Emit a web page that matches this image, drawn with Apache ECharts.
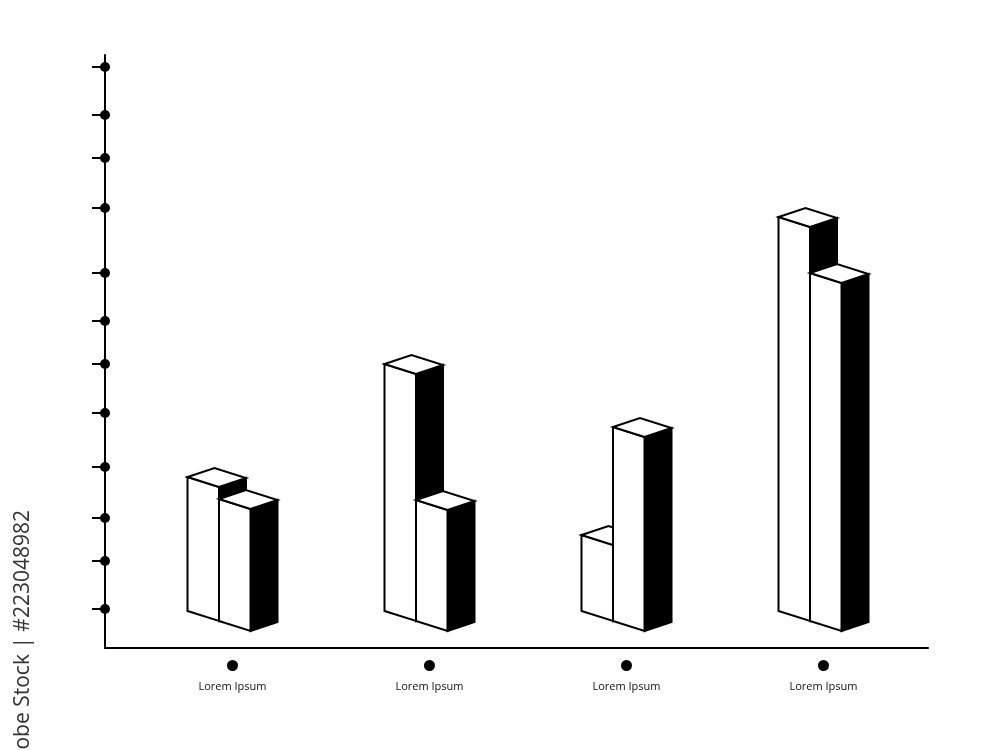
<!DOCTYPE html>
<html>
<head>
<meta charset="utf-8">
<script src="https://cdn.jsdelivr.net/npm/echarts@6/dist/echarts.min.js"></script>
<style>
  html, body { margin: 0; padding: 0; background: #fff; }
  #chart { width: 1000px; height: 750px; }
</style>
</head>
<body>
<div id="chart"></div>
<script>
// ---- data ----
var categories = ['Lorem Ipsum', 'Lorem Ipsum', 'Lorem Ipsum', 'Lorem Ipsum'];
var backValues = [26.8, 49.4, 15.2, 78.8];
var frontValues = [24.4, 24.2, 38.8, 69.6];
var yTicks = [0.4, 10, 18.6, 28.8, 39.6, 49.4, 58, 67.6, 80.6, 90.6, 99.2, 108.8];
var watermark = 'Adobe Stock | #223048982';

// ---- layout constants ----
var Y_MIN = -7.4, Y_MAX = 111.2;
var FACE_W = 31.5, FACE_DY = 10, DEPTH_X = 27, DEPTH_Y = -9;

var chart = echarts.init(document.getElementById('chart'));

function barShapes(api, idx, val, j, cx, y0) {
  var top = api.coord([idx, val])[1];
  var h = y0 - top;
  var bx = cx - (2 * FACE_W + DEPTH_X) / 2 + j * FACE_W;
  var by = y0 + j * FACE_DY;
  var st = { stroke: '#000', lineWidth: 2, lineJoin: 'miter' };
  var side = {
    type: 'polygon',
    shape: { points: [[bx + FACE_W, by + FACE_DY], [bx + FACE_W + DEPTH_X, by + FACE_DY + DEPTH_Y],
                      [bx + FACE_W + DEPTH_X, by + FACE_DY + DEPTH_Y - h], [bx + FACE_W, by + FACE_DY - h]] },
    style: Object.assign({ fill: '#000' }, st)
  };
  var front = {
    type: 'polygon',
    shape: { points: [[bx, by], [bx + FACE_W, by + FACE_DY], [bx + FACE_W, by + FACE_DY - h], [bx, by - h]] },
    style: Object.assign({ fill: '#fff' }, st)
  };
  var topFace = {
    type: 'polygon',
    shape: { points: [[bx, by - h], [bx + FACE_W, by + FACE_DY - h],
                      [bx + FACE_W + DEPTH_X, by + FACE_DY + DEPTH_Y - h], [bx + DEPTH_X, by + DEPTH_Y - h]] },
    style: Object.assign({ fill: '#fff' }, st)
  };
  return [side, front, topFace];
}

var option = {
  backgroundColor: '#fff',
  animation: false,
  grid: [
    { left: 105, top: 55, width: 823, height: 593 },
    { left: 134, top: 55, width: 788, height: 593 }
  ],
  xAxis: [
    { gridIndex: 0, type: 'value', min: 0, max: 1,
      axisLine: { show: true, onZero: false, lineStyle: { color: '#000', width: 2 } },
      axisTick: { show: false }, axisLabel: { show: false }, splitLine: { show: false } },
    { gridIndex: 1, type: 'category', data: categories,
      axisLine: { show: false }, axisTick: { show: false }, splitLine: { show: false },
      axisLabel: {
        margin: 12, interval: 0,
        formatter: function (v) { return '{d|}\n{t|' + v + '}'; },
        rich: {
          d: { width: 11, height: 11, borderRadius: 5.5, backgroundColor: '#000', lineHeight: 11 },
          t: { fontSize: 11, fontFamily: 'Open Sans', color: '#111', lineHeight: 31 }
        }
      } }
  ],
  yAxis: [
    { gridIndex: 0, type: 'value', min: Y_MIN, max: Y_MAX,
      axisLine: { show: true, onZero: false, lineStyle: { color: '#000', width: 2 } },
      axisTick: { show: false }, axisLabel: { show: false }, splitLine: { show: false } },
    { gridIndex: 1, type: 'value', min: Y_MIN, max: Y_MAX, show: false, splitLine: { show: false } }
  ],
  series: [
    {
      type: 'custom', xAxisIndex: 0, yAxisIndex: 0, clip: false,
      data: yTicks.map(function (v) { return [0, v]; }),
      renderItem: function (params, api) {
        var p = api.coord([api.value(0), api.value(1)]);
        return {
          type: 'group',
          children: [
            { type: 'line', shape: { x1: p[0] - 13, y1: p[1], x2: p[0], y2: p[1] },
              style: { stroke: '#000', lineWidth: 2 } },
            { type: 'circle', shape: { cx: p[0], cy: p[1], r: 5 }, style: { fill: '#000' } }
          ]
        };
      }
    },
    {
      type: 'custom', xAxisIndex: 1, yAxisIndex: 1, clip: false,
      data: categories.map(function (c, i) { return [i, backValues[i], frontValues[i]]; }),
      renderItem: function (params, api) {
        var idx = api.value(0);
        var base = api.coord([idx, 0]);
        var cx = base[0], y0 = base[1];
        var children = barShapes(api, idx, api.value(1), 0, cx, y0)
          .concat(barShapes(api, idx, api.value(2), 1, cx, y0));
        return { type: 'group', children: children };
      }
    }
  ],
  graphic: [
    { type: 'text', x: 23, y: 510, rotation: Math.PI / 2,
      style: { text: watermark, fill: '#333', font: '21px "Open Sans"',
               textAlign: 'right', textVerticalAlign: 'middle' } }
  ]
};
chart.setOption(option);
</script>
</body>
</html>
